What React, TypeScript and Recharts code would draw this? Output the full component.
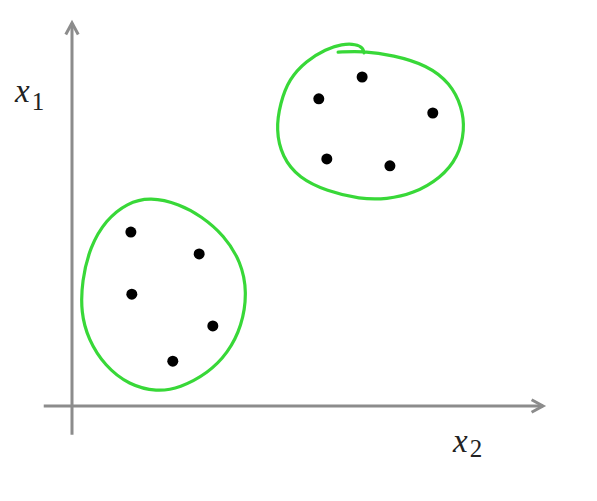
import React from 'react';
import { ComposedChart, XAxis, YAxis, Scatter, Line, ReferenceLine, ReferenceDot } from 'recharts';

// Cluster points (x2 on horizontal axis, x1 on vertical axis)
const clusterA = [
  { x: 1.25, y: 4.54 },
  { x: 2.7, y: 3.97 },
  { x: 1.27, y: 2.92 },
  { x: 2.99, y: 2.09 },
  { x: 2.14, y: 1.17 },
];
const clusterB = [
  { x: 5.24, y: 8.02 },
  { x: 6.16, y: 8.59 },
  { x: 7.66, y: 7.65 },
  { x: 5.41, y: 6.45 },
  { x: 6.75, y: 6.27 },
];

// Hand-drawn green loops around each cluster
const loopA = [
  { x: 1.66, y: 5.46 }, { x: 2.29, y: 5.27 }, { x: 2.74, y: 4.96 }, { x: 3.23, y: 4.46 },
  { x: 3.59, y: 3.76 }, { x: 3.72, y: 2.98 }, { x: 3.61, y: 2.09 }, { x: 3.31, y: 1.38 },
  { x: 2.89, y: 0.86 }, { x: 2.29, y: 0.47 }, { x: 1.8, y: 0.37 }, { x: 1.21, y: 0.55 },
  { x: 0.7, y: 1.04 }, { x: 0.34, y: 1.75 }, { x: 0.19, y: 2.45 }, { x: 0.21, y: 3.26 },
  { x: 0.38, y: 4.15 }, { x: 0.72, y: 4.86 }, { x: 1.17, y: 5.3 },
];
const loopB = [
  { x: 5.65, y: 9.24 }, { x: 6.18, y: 9.27 }, { x: 6.82, y: 9.16 }, { x: 7.54, y: 8.9 },
  { x: 8.03, y: 8.43 }, { x: 8.28, y: 7.81 }, { x: 8.34, y: 7.21 }, { x: 8.2, y: 6.5 },
  { x: 7.83, y: 5.95 }, { x: 7.24, y: 5.54 }, { x: 6.69, y: 5.4 }, { x: 6.11, y: 5.4 },
  { x: 5.41, y: 5.61 }, { x: 4.82, y: 5.95 }, { x: 4.46, y: 6.5 }, { x: 4.33, y: 7.21 },
  { x: 4.42, y: 7.91 }, { x: 4.61, y: 8.54 }, { x: 4.97, y: 9.01 }, { x: 5.39, y: 9.32 },
  { x: 5.73, y: 9.45 }, { x: 6.03, y: 9.45 }, { x: 6.18, y: 9.35 }, { x: 6.2, y: 9.22 },
];

// Axis extents and label positions (data units)
const xAxisSegment = [{ x: -0.6, y: 0 }, { x: 10, y: 0 }];
const yAxisSegment = [{ x: 0, y: -0.75 }, { x: 0, y: 10 }];
const labelX1 = { x: -1.21, y: 7.94, main: 'x', sub: '1' };
const labelX2 = { x: 8.09, y: -1.2, main: 'x', sub: '2' };

const GREEN = '#38d838';
const AXIS = '#8c8c8c';

const Arrow = (props: any) => {
  const { x1, y1, x2, y2 } = props;
  const ang = Math.atan2(y2 - y1, x2 - x1);
  const len = 13;
  const spread = 0.5;
  const ax = x2 - len * Math.cos(ang - spread);
  const ay = y2 - len * Math.sin(ang - spread);
  const bx = x2 - len * Math.cos(ang + spread);
  const by = y2 - len * Math.sin(ang + spread);
  return (
    <g>
      <line x1={x1} y1={y1} x2={x2} y2={y2} stroke={AXIS} strokeWidth={3} />
      <polyline
        points={`${ax},${ay} ${x2},${y2} ${bx},${by}`}
        fill="none"
        stroke={AXIS}
        strokeWidth={3}
        strokeLinejoin="miter"
      />
    </g>
  );
};

const makeLabel = (main: string, sub: string, subDy: number) => (props: any) => {
  const { cx, cy } = props;
  return (
    <text x={cx} y={cy} fill="#222" fontFamily="serif">
      <tspan fontStyle="italic" fontSize={33} fontFamily="serif">{main}</tspan>
      <tspan fontSize={25} dy={subDy} dx={2} fontFamily="serif">{sub}</tspan>
    </text>
  );
};

const Dot = (props: any) => {
  const { cx, cy } = props;
  return <circle cx={cx} cy={cy} r={5.5} fill="#000" />;
};

export default function App() {
  return (
    <div style={{ position: 'absolute', left: 0, top: 0, width: 597, height: 501, background: '#fff' }}>
      <ComposedChart width={597} height={501} margin={{ top: 23, right: 54, bottom: 95, left: 72 }}>
        <XAxis type="number" dataKey="x" domain={[0, 10]} hide allowDataOverflow />
        <YAxis type="number" dataKey="y" domain={[0, 10]} hide allowDataOverflow />
        <ReferenceLine
          segment={xAxisSegment}
          ifOverflow="visible"
          shape={Arrow}
        />
        <ReferenceLine
          segment={yAxisSegment}
          ifOverflow="visible"
          shape={Arrow}
        />
        <Line
          data={loopA}
          dataKey="y"
          type="basisClosed"
          stroke={GREEN}
          strokeWidth={3.2}
          dot={false}
          activeDot={false}
          isAnimationActive={false}
        />
        <Line
          data={loopB}
          dataKey="y"
          type="basis"
          stroke={GREEN}
          strokeWidth={3.2}
          strokeLinecap="round"
          dot={false}
          activeDot={false}
          isAnimationActive={false}
        />
        <Scatter data={clusterA} fill="#000" shape={Dot} isAnimationActive={false} />
        <Scatter data={clusterB} fill="#000" shape={Dot} isAnimationActive={false} />
        <ReferenceDot
          x={labelX1.x}
          y={labelX1.y}
          r={0}
          ifOverflow="visible"
          shape={makeLabel(labelX1.main, labelX1.sub, 8)}
        />
        <ReferenceDot
          x={labelX2.x}
          y={labelX2.y}
          r={0}
          ifOverflow="visible"
          shape={makeLabel(labelX2.main, labelX2.sub, 5)}
        />
      </ComposedChart>
    </div>
  );
}
